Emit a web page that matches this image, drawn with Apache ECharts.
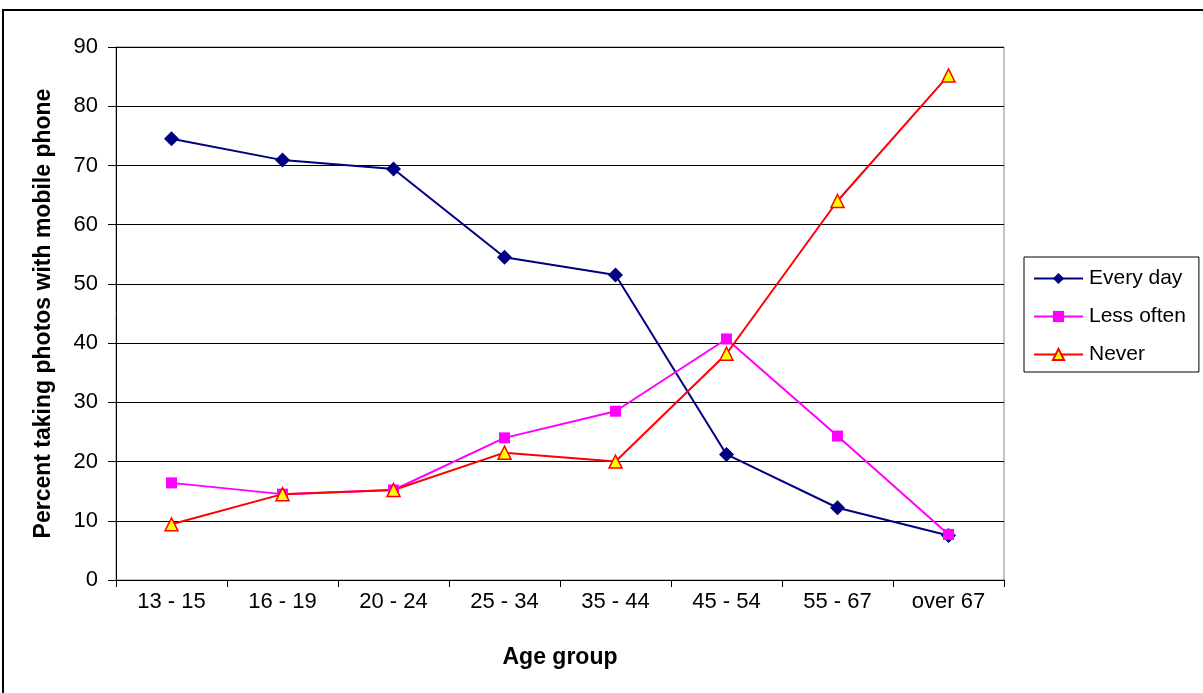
<!DOCTYPE html>
<html><head><meta charset="utf-8">
<script src="https://cdn.jsdelivr.net/npm/echarts@6/dist/echarts.min.js"></script>
<style>html,body{margin:0;padding:0;background:#fff}#c{width:1203px;height:693px}</style>
</head><body><div id="c"></div>
<script>
const categories = ['13 - 15','16 - 19','20 - 24','25 - 34','35 - 44','45 - 54','55 - 67','over 67'];
const everyDay = [74.5, 70.9, 69.4, 54.5, 51.5, 21.2, 12.2, 7.5];
const lessOften = [16.4, 14.5, 15.2, 24.0, 28.5, 40.7, 24.3, 7.7];
const never = [9.4, 14.5, 15.2, 21.5, 20.0, 38.2, 64.0, 85.2];
const yTicks = {min: 0, max: 90, interval: 10};

const chart = echarts.init(document.getElementById('c'));
const font = 'Liberation Sans, Arial, sans-serif';
chart.setOption({
  animation: false,
  backgroundColor: '#fff',
  graphic: [{type:'rect', shape:{x:3,y:10,width:1220,height:720}, style:{fill:'none', stroke:'#000', lineWidth:2}, z:-1}],
  grid: {left:116, top:47, right:199, bottom:113, show:true, borderColor:'#888', borderWidth:1, backgroundColor:'transparent'},
  legend: {
    orient:'vertical', left:1024, top:257,
    borderColor:'#000', borderWidth:1, padding:[11,13,7,9], itemGap:17,
    itemWidth:49, itemHeight:14,
    textStyle:{fontFamily:font, fontSize:21, color:'#000', padding:[0,0,0,1]},
    data:['Every day','Less often','Never']
  },
  xAxis: {
    type:'category', data:categories, boundaryGap:true,
    name:'Age group', nameLocation:'middle', nameGap:66,
    nameTextStyle:{fontFamily:font, fontSize:23, fontWeight:'bold', color:'#000'},
    axisLine:{lineStyle:{color:'#000', width:1}},
    axisTick:{show:true, length:7, lineStyle:{color:'#000'}},
    axisLabel:{fontFamily:font, fontSize:22, color:'#000', margin:11}
  },
  yAxis: {
    type:'value', min:yTicks.min, max:yTicks.max, interval:yTicks.interval,
    name:'Percent taking photos with mobile phone', nameLocation:'middle', nameGap:61,
    nameTextStyle:{fontFamily:font, fontSize:23, fontWeight:'bold', color:'#000'},
    axisLine:{show:true, lineStyle:{color:'#000', width:1}},
    axisTick:{show:true, length:8, lineStyle:{color:'#000'}},
    axisLabel:{fontFamily:font, fontSize:22, color:'#000', margin:18},
    splitLine:{show:true, lineStyle:{color:'#000', width:1}}
  },
  series: [
    {name:'Every day', type:'line', data:everyDay, symbol:'diamond', symbolSize:15,
     lineStyle:{color:'#000080', width:2}, itemStyle:{color:'#000080'}},
    {name:'Less often', type:'line', data:lessOften, symbol:'rect', symbolSize:11,
     lineStyle:{color:'#ff00ff', width:2}, itemStyle:{color:'#ff00ff'}},
    {name:'Never', type:'line', data:never, symbol:'triangle', symbolSize:13,
     lineStyle:{color:'#ff0000', width:2}, itemStyle:{color:'#ffff00', borderColor:'#ff0000', borderWidth:1.5}}
  ]
});
</script></body></html>
